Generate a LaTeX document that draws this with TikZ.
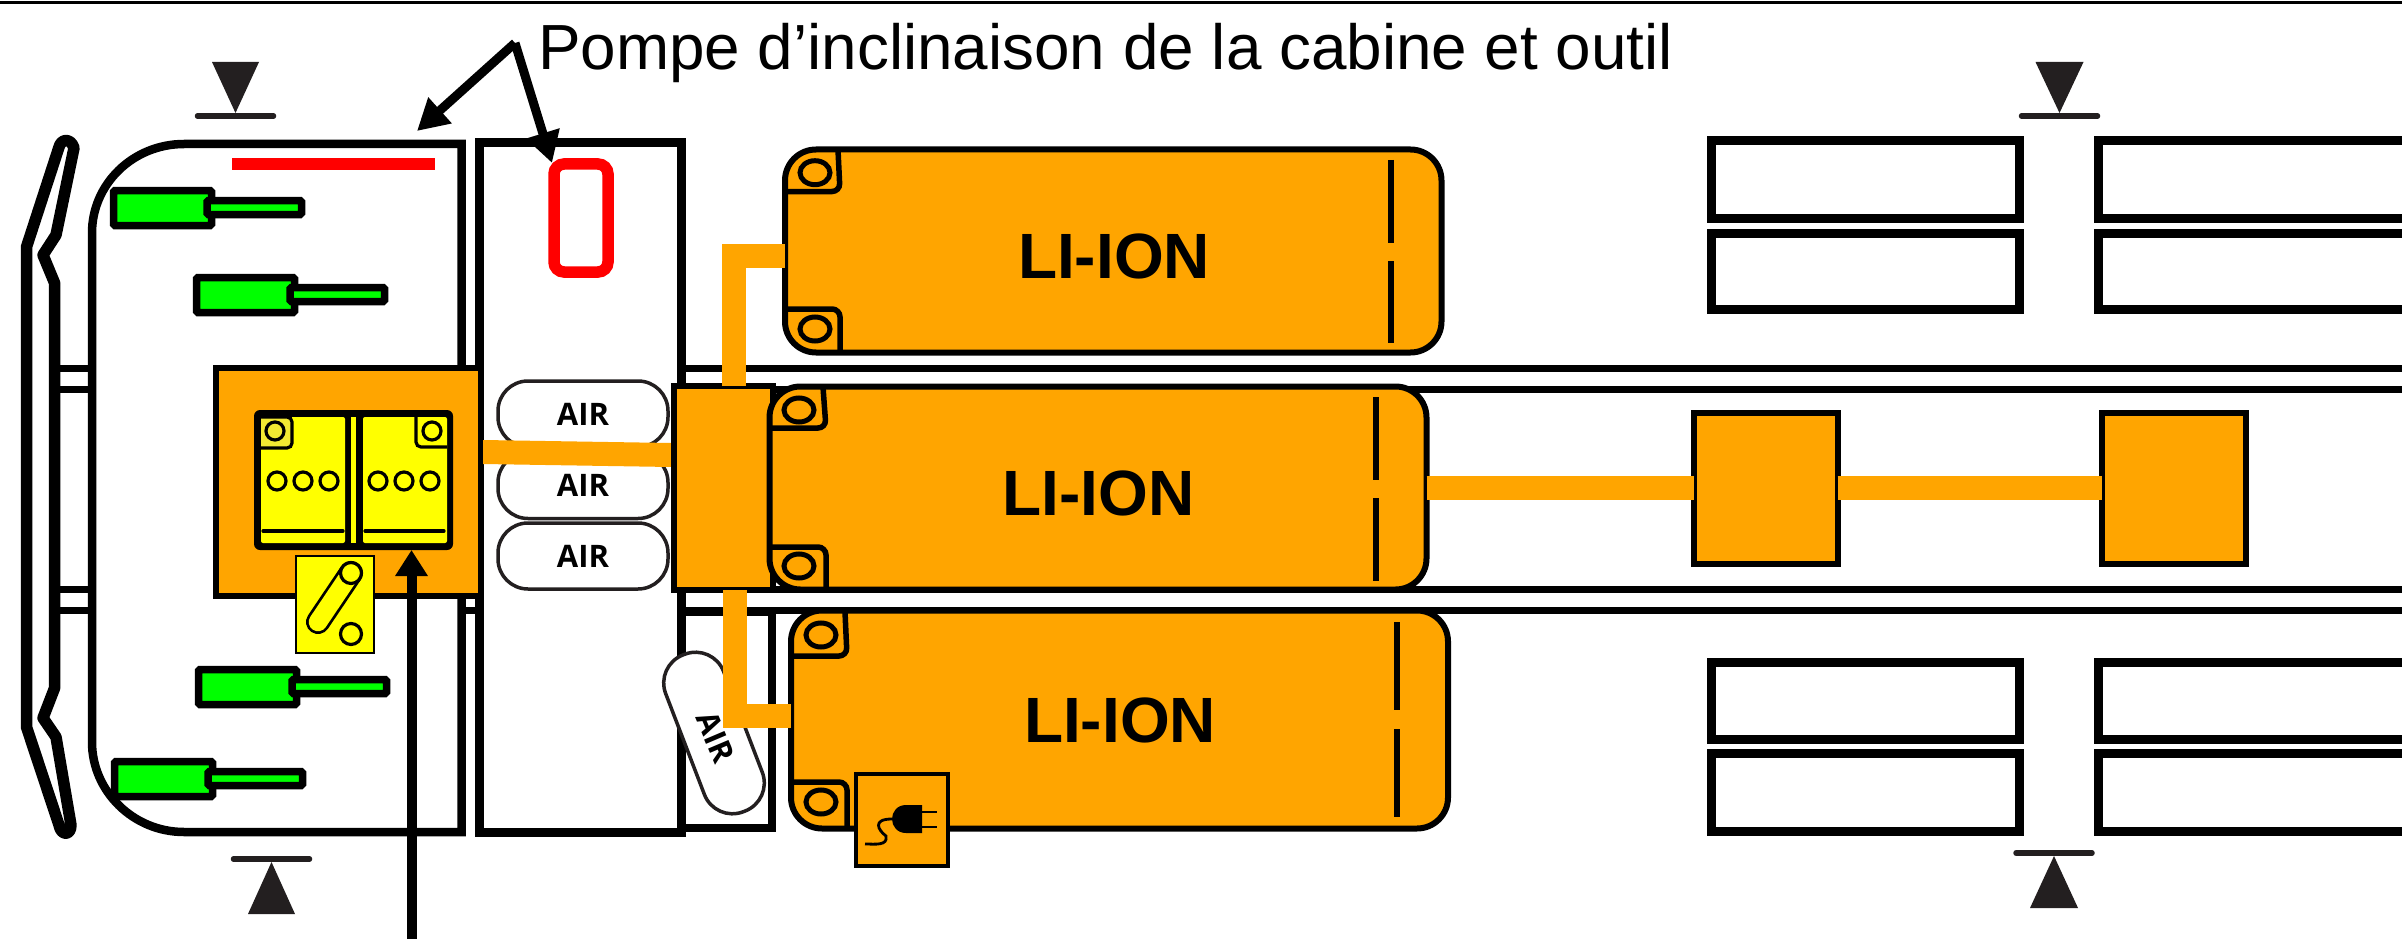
\documentclass[tikz,border=0pt]{standalone}
\usepackage{fontspec}
\setmainfont{Liberation Sans}
\newfontfamily\airfont{Open Sans}
\usetikzlibrary{arrows.meta}
\definecolor{ora}{HTML}{FFA500}
\definecolor{grn}{HTML}{00FF00}
\definecolor{yel}{HTML}{FFFF00}
\definecolor{paleyel}{HTML}{F2E933}
\definecolor{dk}{HTML}{231F20}
\tikzset{
  batterybox/.style={draw=black,fill=ora,line width=6pt,rounded corners=31pt,inner sep=0pt,outer sep=0pt},
  batterytext/.style={font=\fontsize{64}{64}\selectfont\bfseries,inner sep=0pt},
  link/.style={draw=ora,line width=24pt,line cap=butt,line join=miter},
  aircap/.style={draw=dk,fill=white,line width=3.5pt,rounded corners=30pt,inner sep=0pt,outer sep=0pt,
     minimum width=170pt,minimum height=66pt,font=\airfont\fontsize{31}{31}\selectfont\bfseries},
  orabox/.style={draw=black,fill=ora,line width=6pt,inner sep=0pt,outer sep=0pt},
  rail/.style={draw=black,line width=7pt},
  wheelbox/.style={draw=black,fill=white,line width=9pt},
  dashbar/.style={draw=black,line width=6pt},
  brack/.style={draw=black,line width=5.5pt,rounded corners=8pt},
  lug/.style={draw=black,line width=5pt},
  cyl/.style={draw=black,fill=grn,line width=7.5pt,rounded corners=1.5pt},
  ring/.style={draw=black,line width=3.2pt,fill=yel},
  bigarrow/.style={draw=black,line width=9pt,-{Triangle[length=31pt,width=33pt]}},
}
\newcommand{\cylUnit}[2]{%
  \begin{scope}[shift={(#1,#2)}]
    \draw[cyl] (3.5,3.5) rectangle (101.5,38.5);
    \draw[cyl] (97,13.5) rectangle (191.5,27.5);
  \end{scope}}
\newcommand{\sectionMark}[5]{% apex x, apex y, base y, half width, bar y
  \fill[dk] (#1,#2) -- (#1-#4,#3) -- (#1+#4,#3) -- cycle;
  \draw[dk,line width=5.5pt,line cap=round] (#1-38,#5) -- (#1+38,#5);}
\begin{document}
\begin{tikzpicture}[x=1pt,y=-1pt]
\useasboundingbox (0,0) rectangle (2402,939);
\clip (0,0) rectangle (2402,939);
\fill[white] (0,0) rectangle (2402,939);
% top rule
\draw[black,line width=3pt] (0,2.2) -- (2402,2.2);
% chassis rails
\foreach \ry in {368,389,589.5,610.5}{\draw[rail] (50,\ry) -- (2402,\ry);}
% bumper
\draw[black,line width=11.5pt,line join=round,fill=white]
  (26.5,247) -- (58.7,148) .. controls (61,138) and (71,138) .. (74,148)
  -- (56,235) -- (43,255) -- (54.6,283) -- (54.6,688) -- (43,718) -- (56,737)
  -- (71,825) .. controls (71,836) and (61,836) .. (59,825) -- (26.5,727) -- cycle;
% cab
\draw[black,line width=8.5pt,fill=white]
  (461.5,144) -- (184,144) .. controls (133,144) and (92,184) .. (92,233)
  -- (92,742) .. controls (92,791) and (133,832) .. (184,832) -- (461.5,832) -- cycle;
% small rear box, middle box
\draw[black,line width=8pt,fill=white] (681,612) rectangle (772,828);
\draw[black,line width=9pt,fill=white] (479,143) rectangle (681,832);
% red parts
\fill[red] (232,158) rectangle (435,170);
\draw[red,line width=11.5pt,rounded corners=10pt] (554,164) rectangle (608,272);
% green cylinders
\cylUnit{110}{187}
\cylUnit{193}{274}
\cylUnit{195}{666}
\cylUnit{111}{758}
% air capsules
\node[aircap] (air1) at (583,414) {AIR};
\node[aircap] (air2) at (583,485.5) {AIR};
\node[aircap] (air3) at (583,556) {AIR};
\node[aircap,minimum width=168pt,minimum height=62pt,rotate=-69] (air4) at (714,733) {};
\node[inner sep=0pt,rotate=-67,font=\airfont\fontsize{31}{31}\selectfont\bfseries] (air4t) at (716,737) {AIR};
% central orange box and its content
\node[orabox,minimum width=265pt,minimum height=228pt] (power) at (348,481.5) {};
\fill[ora] (483,440) -- (671,443) -- (671,467) -- (483,464) -- cycle;
\fill[black,rounded corners=6pt] (254,410) rectangle (453,550);
\fill[yel,rounded corners=2pt] (261,417) rectangle (345,543);
\fill[yel,rounded corners=2pt] (363,417) rectangle (447,543);
\fill[yel] (351,417) rectangle (356,543);
\draw[black,line width=3.2pt,fill=paleyel,rounded corners=5pt] (261,417) -- (292,417) -- (292,448) -- (261,448);
\draw[black,line width=3.2pt,rounded corners=5pt] (447,447) -- (416,447) -- (416,417);
\draw[ring,fill=paleyel] (275,431) circle (9pt);
\draw[ring] (432,431) circle (9pt);
\foreach \cx in {277,303,329,378,404,430}{\draw[ring] (\cx,481) circle (9pt);}
\draw[black,line width=3.2pt,line cap=round] (263,531) -- (343,531);
\draw[black,line width=3.2pt,line cap=round] (365,531) -- (444,531);
% switch
\draw[black,fill=yel,line width=2.5pt] (296,556) rectangle (374,653);
\draw[black,line width=24pt,line cap=round] (351,573) -- (318,622);
\draw[yel,line width=18.5pt,line cap=round] (351,573) -- (318,622);
\draw[ring] (351,573) circle (10.5pt);
\draw[ring] (351,634) circle (10.5pt);
% junction box
\node[orabox,minimum width=99.5pt,minimum height=204pt] (junction) at (723.25,488) {};
% batteries
\node[batterybox,minimum width=656.5pt,minimum height=203pt] (bat1) at (1113.25,251) {};
\node[batterybox,minimum width=657pt,minimum height=203pt] (bat2) at (1098,488) {};
\node[batterybox,minimum width=657pt,minimum height=218pt] (bat3) at (1119.5,719.5) {};
\node[batterytext] (t1) at (1114,256) {LI-ION};
\node[batterytext] (t2) at (1098.5,493) {LI-ION};
\node[batterytext] (t3) at (1120,720) {LI-ION};
% battery detail: bat1
\draw[brack] (838,150) -- (840,191.5) -- (787,191.5);
\draw[brack] (787,309) -- (840,309) -- (840,352);
\draw[lug] (815,172.7) ellipse (15pt and 12pt);
\draw[lug] (815,329) ellipse (15pt and 12pt);
\draw[dashbar] (1391,160) -- (1391,243);
\draw[dashbar] (1391,261) -- (1391,343);
% bat2
\draw[brack] (823,387) -- (826,428) -- (772,428);
\draw[brack] (772,547) -- (826,547) -- (826,589);
\draw[lug] (799,410) ellipse (15pt and 12pt);
\draw[lug] (799,566) ellipse (15pt and 12pt);
\draw[dashbar] (1375.5,397) -- (1375.5,480);
\draw[dashbar] (1375.5,498) -- (1375.5,581);
% bat3
\draw[brack] (845,612) -- (847,656) -- (793,656);
\draw[brack] (793,782) -- (847,782) -- (847,828);
\draw[lug] (821,635) ellipse (15pt and 12pt);
\draw[lug] (821,802) ellipse (15pt and 12pt);
\draw[dashbar] (1397,622) -- (1397,710);
\draw[dashbar] (1397,729) -- (1397,817);
% orange links (junction to batteries)
\coordinate (up) at (734,255.5);
\coordinate (dn) at (735,716);
\draw[link] (up |- junction.north) |- (up -| bat1.west);
\draw[link] (dn |- junction.south) |- (dn -| bat3.west);
% rear units
\node[orabox,minimum width=144pt,minimum height=151pt] (unit1) at (1765.5,488) {};
\node[orabox,minimum width=144pt,minimum height=151pt] (unit2) at (2173.5,488) {};
\coordinate (rl) at (1500,487.5);
\draw[link] (rl -| bat2.east) -- (rl -| unit1.west);
\draw[link] (rl -| unit1.east) -- (rl -| unit2.west);
% plug box
\draw[black,fill=ora,line width=4.5pt] (856,774) rectangle (948,866);
\fill[black] (922,805) -- (906,805) .. controls (897,805) and (892,812) .. (892,819)
  .. controls (892,826) and (897,833) .. (906,833) -- (922,833) -- cycle;
\draw[black,line width=2.8pt] (922,812) -- (937,812);
\draw[black,line width=2.8pt] (922,827) -- (937,827);
\draw[black,line width=2.8pt] (892,819) .. controls (872,819) and (878,830) .. (886,836)
  .. controls (888,846) and (875,844) .. (865,844);
% wheels
\foreach \wx/\wxr in {1711/2019,2098/2450}{
  \foreach \wt/\wb in {141/218.5,233/309,662/739,753/831}{
    \draw[wheelbox] (\wx,\wt) rectangle (\wxr,\wb);
}}
% section marks
\sectionMark{235.5}{113}{62}{23.5}{116}
\sectionMark{271.5}{862}{914}{23.5}{859}
\sectionMark{2059.5}{113}{62}{24}{116}
\sectionMark{2054}{856}{908}{24}{853}
% label and arrows
\node[anchor=base west,inner sep=0pt,font=\fontsize{63.8}{64}\selectfont] (pump) at (538,70)
  {Pompe d’inclinaison de la cabine et outil};
\coordinate (apex) at (515,43);
\coordinate (tipcab) at (417,131);
\coordinate (tippump) at (552,163);
\coordinate (tippack) at (411.5,550);
\coordinate (tail) at (411.5,945);
\draw[bigarrow] (apex) -- (tipcab);
\draw[bigarrow] (apex) -- (tippump);
\draw[draw=black,line width=10pt,-{Triangle[length=26pt,width=31pt]}] (tail) -- (tippack);
\end{tikzpicture}
\end{document}
